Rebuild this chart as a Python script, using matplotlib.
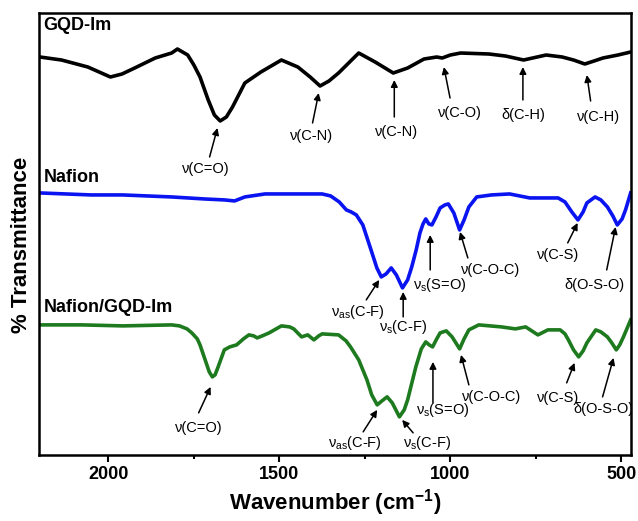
import numpy as np
import matplotlib
matplotlib.use('Agg')
import matplotlib.pyplot as plt
from matplotlib.ticker import MultipleLocator

plt.rcParams['font.family'] = ['Liberation Sans', 'DejaVu Sans']
plt.rcParams['mathtext.fontset'] = 'custom'
plt.rcParams['mathtext.rm'] = 'Liberation Sans'
plt.rcParams['mathtext.it'] = 'Liberation Sans:italic'
plt.rcParams['mathtext.bf'] = 'Liberation Sans:bold'

# spectra (wavenumber, offset transmittance)
gqd_wn = [2200, 2137, 2060, 1994, 1960, 1923, 1863, 1815, 1798, 1768, 1750, 1732, 1708, 1690,
          1673, 1655, 1637, 1601, 1554, 1494, 1446, 1410, 1381, 1355, 1327, 1268, 1220, 1167,
          1125, 1077, 1040, 1024, 1000, 970, 887, 839, 786, 720, 673, 640, 607, 580, 554,
          510, 473]
gqd_t = [398, 395, 388, 378, 381, 387, 397, 402, 406, 400, 390, 378, 355, 340,
         334, 338, 348, 372, 383, 395, 388, 378, 369, 374, 382, 402, 393, 382,
         387, 396, 398, 397, 400, 402, 401, 399, 395, 400, 398, 395, 391, 394, 397,
         400, 403]

naf_wn = [2200, 2050, 1958, 1815, 1720, 1660, 1631, 1601, 1542, 1450, 1375, 1350, 1325, 1304,
          1290, 1275, 1256, 1232, 1215, 1202, 1188, 1173, 1158, 1140, 1125, 1113, 1100, 1089,
          1080, 1072, 1063, 1054, 1042, 1030, 1016, 1006, 990, 973, 960, 946, 923, 880,
          827, 768, 720, 685, 665, 645, 627, 612, 601, 577, 560, 541, 525, 512, 498, 488, 473]
naf_t = [262, 260, 260, 258, 256, 255, 254, 258, 261, 261, 261, 259, 253, 245,
         243, 240, 230, 205, 187, 178, 181, 187, 180, 167, 175, 188, 205, 222,
         231, 236, 231, 230, 238, 247, 250, 251, 242, 225, 235, 248, 258, 260,
         261, 257, 257, 257, 253, 243, 235, 243, 252, 258, 255, 248, 239, 230, 236, 245, 262]

mix_wn = [2200, 2077, 1958, 1815, 1792, 1770, 1756, 1740, 1732, 1714, 1705, 1696, 1688, 1679,
          1661, 1645, 1625, 1605, 1589, 1575, 1565, 1550, 1530, 1494, 1470, 1458, 1435, 1417,
          1399, 1385, 1375, 1327, 1305, 1292, 1268, 1244, 1230, 1214, 1200, 1185, 1170, 1149,
          1135, 1125, 1101, 1085, 1072, 1062, 1052, 1040, 1030, 1012, 995, 973, 960, 946,
          917, 851, 810, 780, 744, 715, 679, 665, 655, 640, 625, 612, 601, 575, 560, 541,
          528, 515, 505, 494, 473]
mix_t = [130, 130, 129, 130, 129, 126, 122, 116, 110, 92, 83, 78, 80, 88,
         105, 108, 110, 116, 120, 119, 117, 119, 122, 129, 128, 126, 118, 120,
         115, 119, 121, 120, 114, 108, 95, 75, 60, 50, 54, 58, 52, 38,
         45, 55, 88, 106, 113, 110, 108, 116, 122, 124, 118, 106, 116, 125,
         130, 128, 126, 128, 120, 125, 125, 121, 115, 105, 98, 104, 112, 125, 123, 118,
         112, 105, 110, 118, 135]

labels = ['GQD-Im', 'Nafion', 'Nafion/GQD-Im']
label_t = [430, 277, 147]

# band assignments: text, text position, arrow tail, arrow head
bands = [
    (r'ν(C=O)', (1716, 286), (1704, 298), (1681, 327)),
    (r'ν(C-N)', (1407, 319), (1403, 332), (1385, 362)),
    (r'ν(C-N)', (1156, 323), (1164, 338), (1164, 375)),
    (r'ν(C-O)', (972, 342), (1001, 357), (1019, 388)),
    (r'δ(C-H)', (788, 340), (788, 355), (788, 388)),
    (r'ν(C-H)', (566, 338), (590, 354), (601, 380)),
    (r'ν$_{\mathrm{as}}$(C-F)', (1269, 143), (1246, 155), (1208, 175)),
    (r'ν$_{\mathrm{s}}$(C-F)', (1138, 128), (1138, 138), (1138, 163)),
    (r'ν$_{\mathrm{s}}$(S=O)', (1030, 170), (1059, 185), (1059, 220)),
    (r'ν(C-O-C)', (882, 185), (949, 197), (972, 223)),
    (r'ν(C-S)', (686, 200), (657, 212), (628, 232)),
    (r'δ(O-S-O)', (578, 170), (543, 185), (517, 228)),
    (r'ν(C=O)', (1736, 27), (1736, 42), (1701, 68)),
    (r'ν$_{\mathrm{as}}$(C-F)', (1278, 12), (1255, 23), (1214, 45)),
    (r'ν$_{\mathrm{s}}$(C-F)', (1068, 12), (1109, 22), (1141, 35)),
    (r'ν$_{\mathrm{s}}$(S=O)', (1022, 45), (1051, 52), (1051, 93)),
    (r'ν(C-O-C)', (879, 58), (946, 70), (969, 100)),
    (r'ν(C-S)', (684, 57), (660, 72), (637, 92)),
]
# last label runs into the right frame and is cut there
cut_label = (r'δ(O-S-O)', (640, 46), (555, 58), (523, 97))

fig = plt.figure(figsize=(6.38, 5.21), dpi=100)
ax = fig.add_axes([0.061, 0.127, 0.928, 0.848])

ax.plot(gqd_wn, gqd_t, color='black', lw=2.6, solid_joinstyle='round')
ax.plot(naf_wn, naf_t, color='#0a14f0', lw=2.6, solid_joinstyle='round')
ax.plot(mix_wn, mix_t, color='#1e7a1e', lw=2.6, solid_joinstyle='round')

for lab, t in zip(labels, label_t):
    ax.text(2190, t, lab, fontsize=13, fontweight='bold', va='center', ha='left')

for txt, tpos, tail, head in bands:
    ax.text(tpos[0], tpos[1], txt, fontsize=10.5, ha='center', va='center')
    ax.annotate('', xy=head, xytext=tail,
                arrowprops=dict(arrowstyle='-|>', color='black', lw=1.1,
                                mutation_scale=10, shrinkA=0, shrinkB=0))

txt, tpos, tail, head = cut_label
ax.text(tpos[0], tpos[1], txt, fontsize=10.5, ha='left', va='center', clip_on=True)
ax.annotate('', xy=head, xytext=tail,
            arrowprops=dict(arrowstyle='-|>', color='black', lw=1.1,
                            mutation_scale=10, shrinkA=0, shrinkB=0))

ax.set_xlim(2203, 472)
ax.set_ylim(0, 442)
ax.xaxis.set_major_locator(MultipleLocator(500))
ax.xaxis.set_minor_locator(MultipleLocator(250))
ax.set_yticks([])
ax.tick_params(axis='x', which='both', direction='out', top=False, width=1.5)
ax.tick_params(axis='x', which='major', length=5, labelsize=13, pad=3)
ax.tick_params(axis='x', which='minor', length=3)
for lbl in ax.get_xticklabels():
    lbl.set_fontweight('bold')
for s in ax.spines.values():
    s.set_linewidth(1.8)

ax.set_xlabel('Wavenumber (cm$^{\\mathbf{-1}}$)', fontsize=16, fontweight='bold', labelpad=3)
ax.set_ylabel('% Transmittance', fontsize=16, fontweight='bold', labelpad=5)
ax.yaxis.set_label_coords(-0.012, 0.475)

fig.savefig('out.png', dpi=100)
